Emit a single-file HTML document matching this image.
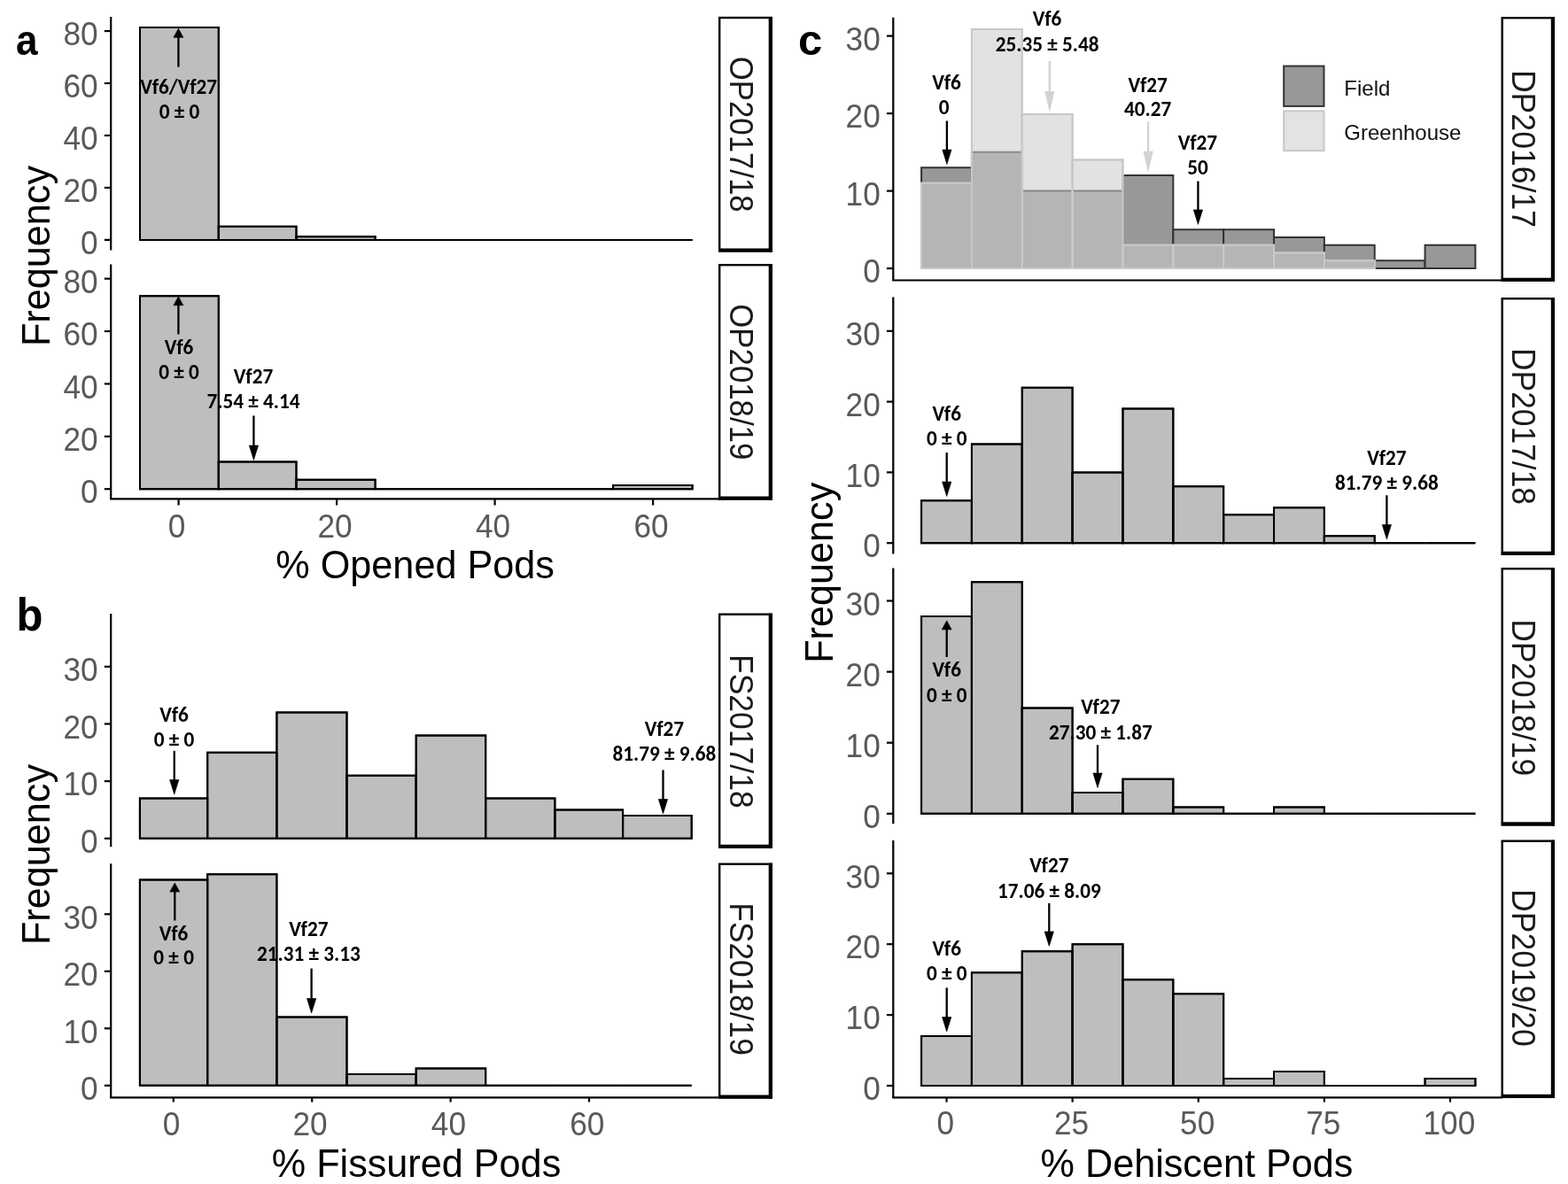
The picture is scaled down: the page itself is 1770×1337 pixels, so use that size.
<!DOCTYPE html><html><head><meta charset="utf-8"><title>Pod dehiscence histograms</title><style>html,body{margin:0;padding:0;background:#fff;overflow:hidden;}svg{display:block;}</style></head><body>
<svg width="1770" height="1337" viewBox="0 0 1770 1337">
<rect x="0" y="0" width="1770" height="1337" fill="#fff"/>
<path d="M158 270.9V30.93H246.8V270.9Z" fill="#bebebe" stroke="#000" stroke-width="2.0"/>
<path d="M246.8 270.9V255.87H334.5V270.9Z" fill="#bebebe" stroke="#000" stroke-width="2.0"/>
<path d="M334.5 270.9V267.36H423.6V270.9Z" fill="#bebebe" stroke="#000" stroke-width="2.0"/>
<path d="M423.6 270.9V270.9H513V270.9Z" fill="#bebebe" stroke="#000" stroke-width="2.0"/>
<path d="M513 270.9V270.9H602.5V270.9Z" fill="#bebebe" stroke="#000" stroke-width="2.0"/>
<path d="M602.5 270.9V270.9H692.1V270.9Z" fill="#bebebe" stroke="#000" stroke-width="2.0"/>
<path d="M692.1 270.9V270.9H781.6V270.9Z" fill="#bebebe" stroke="#000" stroke-width="2.0"/>
<path d="M158 552.2V334.28H246.8V552.2Z" fill="#bebebe" stroke="#000" stroke-width="2.0"/>
<path d="M246.8 552.2V521.62H334.5V552.2Z" fill="#bebebe" stroke="#000" stroke-width="2.0"/>
<path d="M334.5 552.2V541.81H423.6V552.2Z" fill="#bebebe" stroke="#000" stroke-width="2.0"/>
<path d="M423.6 552.2V552.2H513V552.2Z" fill="#bebebe" stroke="#000" stroke-width="2.0"/>
<path d="M513 552.2V552.2H602.5V552.2Z" fill="#bebebe" stroke="#000" stroke-width="2.0"/>
<path d="M602.5 552.2V552.2H692.1V552.2Z" fill="#bebebe" stroke="#000" stroke-width="2.0"/>
<path d="M692.1 552.2V548.04H781.6V552.2Z" fill="#bebebe" stroke="#000" stroke-width="2.0"/>
<line x1="201.4" y1="75.6" x2="201.4" y2="41.3" stroke="#000" stroke-width="2.3" stroke-linecap="butt"/>
<polygon points="195.9,42.3 206.9,42.3 201.4,32.3" fill="#000" stroke="#000" stroke-width="0.6"/>
<text transform="translate(201.6 105.5) scale(1.0 1.03)" font-size="23.2" font-family="Carlito, Calibri, 'Liberation Sans', Arial, sans-serif" font-weight="bold" fill="#000" text-anchor="middle" textLength="86.81" lengthAdjust="spacingAndGlyphs">Vf6/Vf27</text>
<text transform="translate(202.4 134.3) scale(1.0 1.03)" font-size="23.2" font-family="Carlito, Calibri, 'Liberation Sans', Arial, sans-serif" font-weight="bold" fill="#000" text-anchor="middle" textLength="45.56" lengthAdjust="spacingAndGlyphs">0 ± 0</text>
<line x1="201.4" y1="377.5" x2="201.4" y2="343.8" stroke="#000" stroke-width="2.3" stroke-linecap="butt"/>
<polygon points="195.9,344.8 206.9,344.8 201.4,334.8" fill="#000" stroke="#000" stroke-width="0.6"/>
<text transform="translate(202 399.5) scale(1.0 1.03)" font-size="23.2" font-family="Carlito, Calibri, 'Liberation Sans', Arial, sans-serif" font-weight="bold" fill="#000" text-anchor="middle" textLength="32.55" lengthAdjust="spacingAndGlyphs">Vf6</text>
<text transform="translate(202 427.5) scale(1.0 1.03)" font-size="23.2" font-family="Carlito, Calibri, 'Liberation Sans', Arial, sans-serif" font-weight="bold" fill="#000" text-anchor="middle" textLength="45.56" lengthAdjust="spacingAndGlyphs">0 ± 0</text>
<text transform="translate(286 432.6) scale(1.0 1.03)" font-size="23.2" font-family="Carlito, Calibri, 'Liberation Sans', Arial, sans-serif" font-weight="bold" fill="#000" text-anchor="middle" textLength="44.3" lengthAdjust="spacingAndGlyphs">Vf27</text>
<text transform="translate(286 461) scale(1.0 1.03)" font-size="23.2" font-family="Carlito, Calibri, 'Liberation Sans', Arial, sans-serif" font-weight="bold" fill="#000" text-anchor="middle" textLength="104.98" lengthAdjust="spacingAndGlyphs">7.54 ± 4.14</text>
<line x1="286.4" y1="469.4" x2="286.4" y2="504" stroke="#000" stroke-width="2.3" stroke-linecap="butt"/>
<polygon points="281.25,503 291.55,503 286.4,519.5" fill="#000" stroke="#000" stroke-width="0.6" stroke-linejoin="miter"/>
<path d="M158 270.9V30.93H246.8V270.9Z" fill="none" stroke="#000" stroke-width="2.0"/>
<path d="M246.8 270.9V255.87H334.5V270.9Z" fill="none" stroke="#000" stroke-width="2.0"/>
<path d="M334.5 270.9V267.36H423.6V270.9Z" fill="none" stroke="#000" stroke-width="2.0"/>
<path d="M423.6 270.9V270.9H513V270.9Z" fill="none" stroke="#000" stroke-width="2.0"/>
<path d="M513 270.9V270.9H602.5V270.9Z" fill="none" stroke="#000" stroke-width="2.0"/>
<path d="M602.5 270.9V270.9H692.1V270.9Z" fill="none" stroke="#000" stroke-width="2.0"/>
<path d="M692.1 270.9V270.9H781.6V270.9Z" fill="none" stroke="#000" stroke-width="2.0"/>
<path d="M158 552.2V334.28H246.8V552.2Z" fill="none" stroke="#000" stroke-width="2.0"/>
<path d="M246.8 552.2V521.62H334.5V552.2Z" fill="none" stroke="#000" stroke-width="2.0"/>
<path d="M334.5 552.2V541.81H423.6V552.2Z" fill="none" stroke="#000" stroke-width="2.0"/>
<path d="M423.6 552.2V552.2H513V552.2Z" fill="none" stroke="#000" stroke-width="2.0"/>
<path d="M513 552.2V552.2H602.5V552.2Z" fill="none" stroke="#000" stroke-width="2.0"/>
<path d="M602.5 552.2V552.2H692.1V552.2Z" fill="none" stroke="#000" stroke-width="2.0"/>
<path d="M692.1 552.2V548.04H781.6V552.2Z" fill="none" stroke="#000" stroke-width="2.0"/>
<line x1="125.2" y1="19" x2="125.2" y2="282.4" stroke="#000" stroke-width="2.2" stroke-linecap="butt"/>
<line x1="117.8" y1="270.9" x2="125.2" y2="270.9" stroke="#000" stroke-width="2.2" stroke-linecap="butt"/>
<text transform="translate(110.6 287.1) scale(1.0 1.07)" font-size="35.2" font-family="'Liberation Sans', Arial, Helvetica, sans-serif" fill="#595959" text-anchor="end">0</text>
<line x1="117.8" y1="211.94" x2="125.2" y2="211.94" stroke="#000" stroke-width="2.2" stroke-linecap="butt"/>
<text transform="translate(110.6 228.14) scale(1.0 1.07)" font-size="35.2" font-family="'Liberation Sans', Arial, Helvetica, sans-serif" fill="#595959" text-anchor="end">20</text>
<line x1="117.8" y1="152.98" x2="125.2" y2="152.98" stroke="#000" stroke-width="2.2" stroke-linecap="butt"/>
<text transform="translate(110.6 169.18) scale(1.0 1.07)" font-size="35.2" font-family="'Liberation Sans', Arial, Helvetica, sans-serif" fill="#595959" text-anchor="end">40</text>
<line x1="117.8" y1="94.02" x2="125.2" y2="94.02" stroke="#000" stroke-width="2.2" stroke-linecap="butt"/>
<text transform="translate(110.6 110.22) scale(1.0 1.07)" font-size="35.2" font-family="'Liberation Sans', Arial, Helvetica, sans-serif" fill="#595959" text-anchor="end">60</text>
<line x1="117.8" y1="35.06" x2="125.2" y2="35.06" stroke="#000" stroke-width="2.2" stroke-linecap="butt"/>
<text transform="translate(110.6 51.26) scale(1.0 1.07)" font-size="35.2" font-family="'Liberation Sans', Arial, Helvetica, sans-serif" fill="#595959" text-anchor="end">80</text>
<line x1="125.2" y1="298.4" x2="125.2" y2="563.3" stroke="#000" stroke-width="2.2" stroke-linecap="butt"/>
<line x1="117.8" y1="552.2" x2="125.2" y2="552.2" stroke="#000" stroke-width="2.2" stroke-linecap="butt"/>
<text transform="translate(110.6 568.4) scale(1.0 1.07)" font-size="35.2" font-family="'Liberation Sans', Arial, Helvetica, sans-serif" fill="#595959" text-anchor="end">0</text>
<line x1="117.8" y1="492.82" x2="125.2" y2="492.82" stroke="#000" stroke-width="2.2" stroke-linecap="butt"/>
<text transform="translate(110.6 509.02) scale(1.0 1.07)" font-size="35.2" font-family="'Liberation Sans', Arial, Helvetica, sans-serif" fill="#595959" text-anchor="end">20</text>
<line x1="117.8" y1="433.44" x2="125.2" y2="433.44" stroke="#000" stroke-width="2.2" stroke-linecap="butt"/>
<text transform="translate(110.6 449.64) scale(1.0 1.07)" font-size="35.2" font-family="'Liberation Sans', Arial, Helvetica, sans-serif" fill="#595959" text-anchor="end">40</text>
<line x1="117.8" y1="374.06" x2="125.2" y2="374.06" stroke="#000" stroke-width="2.2" stroke-linecap="butt"/>
<text transform="translate(110.6 390.26) scale(1.0 1.07)" font-size="35.2" font-family="'Liberation Sans', Arial, Helvetica, sans-serif" fill="#595959" text-anchor="end">60</text>
<line x1="117.8" y1="314.68" x2="125.2" y2="314.68" stroke="#000" stroke-width="2.2" stroke-linecap="butt"/>
<text transform="translate(110.6 330.88) scale(1.0 1.07)" font-size="35.2" font-family="'Liberation Sans', Arial, Helvetica, sans-serif" fill="#595959" text-anchor="end">80</text>
<line x1="124.1" y1="563.3" x2="812" y2="563.3" stroke="#000" stroke-width="2.2" stroke-linecap="butt"/>
<line x1="201.6" y1="563.3" x2="201.6" y2="570.5" stroke="#000" stroke-width="2.2" stroke-linecap="butt"/>
<text transform="translate(199.6 607.4) scale(1.0 1.07)" font-size="35.2" font-family="'Liberation Sans', Arial, Helvetica, sans-serif" fill="#595959" text-anchor="middle">0</text>
<line x1="380.1" y1="563.3" x2="380.1" y2="570.5" stroke="#000" stroke-width="2.2" stroke-linecap="butt"/>
<text transform="translate(378.1 607.4) scale(1.0 1.07)" font-size="35.2" font-family="'Liberation Sans', Arial, Helvetica, sans-serif" fill="#595959" text-anchor="middle">20</text>
<line x1="558.6" y1="563.3" x2="558.6" y2="570.5" stroke="#000" stroke-width="2.2" stroke-linecap="butt"/>
<text transform="translate(556.6 607.4) scale(1.0 1.07)" font-size="35.2" font-family="'Liberation Sans', Arial, Helvetica, sans-serif" fill="#595959" text-anchor="middle">40</text>
<line x1="737.1" y1="563.3" x2="737.1" y2="570.5" stroke="#000" stroke-width="2.2" stroke-linecap="butt"/>
<text transform="translate(735.1 607.4) scale(1.0 1.07)" font-size="35.2" font-family="'Liberation Sans', Arial, Helvetica, sans-serif" fill="#595959" text-anchor="middle">60</text>
<rect x="812.2" y="20" width="58.5" height="263.4" fill="#fff" stroke="#000" stroke-width="2.4"/>
<line x1="869.8" y1="19.1" x2="869.8" y2="284.6" stroke="#000" stroke-width="4.2" stroke-linecap="butt"/>
<line x1="811.3" y1="282.5" x2="871.9" y2="282.5" stroke="#000" stroke-width="4.2" stroke-linecap="butt"/>
<text transform="translate(823.74 151.7) rotate(90) scale(1.0 1.06)" font-size="34.8" font-family="'Liberation Sans', Arial, Helvetica, sans-serif" fill="#1a1a1a" text-anchor="middle">OP2017/18</text>
<rect x="812.2" y="299.2" width="58.5" height="264.2" fill="#fff" stroke="#000" stroke-width="2.4"/>
<line x1="869.8" y1="298.3" x2="869.8" y2="564.6" stroke="#000" stroke-width="4.2" stroke-linecap="butt"/>
<line x1="811.3" y1="562.5" x2="871.9" y2="562.5" stroke="#000" stroke-width="4.2" stroke-linecap="butt"/>
<text transform="translate(823.74 431.3) rotate(90) scale(1.0 1.06)" font-size="34.8" font-family="'Liberation Sans', Arial, Helvetica, sans-serif" fill="#1a1a1a" text-anchor="middle">OP2018/19</text>
<text transform="translate(468.6 652.8) scale(1.0 1.04)" font-size="43.2" font-family="'Liberation Sans', Arial, Helvetica, sans-serif" fill="#000" text-anchor="middle">% Opened Pods</text>
<text transform="translate(55.8 289) rotate(-90) scale(1.0 1.04)" font-size="43.2" font-family="'Liberation Sans', Arial, Helvetica, sans-serif" fill="#000" text-anchor="middle">Frequency</text>
<text transform="translate(18 62.4) scale(0.9 1.0)" font-size="49" font-family="'Liberation Sans', Arial, Helvetica, sans-serif" font-weight="bold" fill="#000" text-anchor="start">a</text>
<path d="M157.9 946.8V901.53H234.2V946.8Z" fill="#bebebe" stroke="#000" stroke-width="2.0"/>
<path d="M234.2 946.8V849.79H312.4V946.8Z" fill="#bebebe" stroke="#000" stroke-width="2.0"/>
<path d="M312.4 946.8V804.53H391.5V946.8Z" fill="#bebebe" stroke="#000" stroke-width="2.0"/>
<path d="M391.5 946.8V875.66H469.7V946.8Z" fill="#bebebe" stroke="#000" stroke-width="2.0"/>
<path d="M469.7 946.8V830.39H548.2V946.8Z" fill="#bebebe" stroke="#000" stroke-width="2.0"/>
<path d="M548.2 946.8V901.53H626.4V946.8Z" fill="#bebebe" stroke="#000" stroke-width="2.0"/>
<path d="M626.4 946.8V914.46H703.1V946.8Z" fill="#bebebe" stroke="#000" stroke-width="2.0"/>
<path d="M703.1 946.8V920.93H780.7V946.8Z" fill="#bebebe" stroke="#000" stroke-width="2.0"/>
<path d="M157.9 1225.8V993.6H234.2V1225.8Z" fill="#bebebe" stroke="#000" stroke-width="2.0"/>
<path d="M234.2 1225.8V987.15H312.4V1225.8Z" fill="#bebebe" stroke="#000" stroke-width="2.0"/>
<path d="M312.4 1225.8V1148.4H391.5V1225.8Z" fill="#bebebe" stroke="#000" stroke-width="2.0"/>
<path d="M391.5 1225.8V1212.9H469.7V1225.8Z" fill="#bebebe" stroke="#000" stroke-width="2.0"/>
<path d="M469.7 1225.8V1206.45H548.2V1225.8Z" fill="#bebebe" stroke="#000" stroke-width="2.0"/>
<path d="M548.2 1225.8V1225.8H626.4V1225.8Z" fill="#bebebe" stroke="#000" stroke-width="2.0"/>
<path d="M626.4 1225.8V1225.8H703.1V1225.8Z" fill="#bebebe" stroke="#000" stroke-width="2.0"/>
<path d="M703.1 1225.8V1225.8H780.7V1225.8Z" fill="#bebebe" stroke="#000" stroke-width="2.0"/>
<text transform="translate(196.5 815) scale(1.0 1.03)" font-size="23.2" font-family="Carlito, Calibri, 'Liberation Sans', Arial, sans-serif" font-weight="bold" fill="#000" text-anchor="middle" textLength="32.55" lengthAdjust="spacingAndGlyphs">Vf6</text>
<text transform="translate(196.5 843) scale(1.0 1.03)" font-size="23.2" font-family="Carlito, Calibri, 'Liberation Sans', Arial, sans-serif" font-weight="bold" fill="#000" text-anchor="middle" textLength="45.56" lengthAdjust="spacingAndGlyphs">0 ± 0</text>
<line x1="196.75" y1="847.8" x2="196.75" y2="881.6" stroke="#000" stroke-width="2.3" stroke-linecap="butt"/>
<polygon points="191.6,880.6 201.9,880.6 196.75,897.1" fill="#000" stroke="#000" stroke-width="0.6" stroke-linejoin="miter"/>
<text transform="translate(749.9 830.6) scale(1.0 1.03)" font-size="23.2" font-family="Carlito, Calibri, 'Liberation Sans', Arial, sans-serif" font-weight="bold" fill="#000" text-anchor="middle" textLength="44.3" lengthAdjust="spacingAndGlyphs">Vf27</text>
<text transform="translate(749.9 858.8) scale(1.0 1.03)" font-size="23.2" font-family="Carlito, Calibri, 'Liberation Sans', Arial, sans-serif" font-weight="bold" fill="#000" text-anchor="middle" textLength="116.74" lengthAdjust="spacingAndGlyphs">81.79 ± 9.68</text>
<line x1="748.5" y1="869.5" x2="748.5" y2="903.5" stroke="#000" stroke-width="2.3" stroke-linecap="butt"/>
<polygon points="743.35,902.5 753.65,902.5 748.5,919" fill="#000" stroke="#000" stroke-width="0.6" stroke-linejoin="miter"/>
<line x1="197.3" y1="1039.5" x2="197.3" y2="1006.1" stroke="#000" stroke-width="2.3" stroke-linecap="butt"/>
<polygon points="191.8,1007.1 202.8,1007.1 197.3,997.1" fill="#000" stroke="#000" stroke-width="0.6"/>
<text transform="translate(196.1 1061.6) scale(1.0 1.03)" font-size="23.2" font-family="Carlito, Calibri, 'Liberation Sans', Arial, sans-serif" font-weight="bold" fill="#000" text-anchor="middle" textLength="32.55" lengthAdjust="spacingAndGlyphs">Vf6</text>
<text transform="translate(196.1 1089.1) scale(1.0 1.03)" font-size="23.2" font-family="Carlito, Calibri, 'Liberation Sans', Arial, sans-serif" font-weight="bold" fill="#000" text-anchor="middle" textLength="45.56" lengthAdjust="spacingAndGlyphs">0 ± 0</text>
<text transform="translate(348.3 1057) scale(1.0 1.03)" font-size="23.2" font-family="Carlito, Calibri, 'Liberation Sans', Arial, sans-serif" font-weight="bold" fill="#000" text-anchor="middle" textLength="44.3" lengthAdjust="spacingAndGlyphs">Vf27</text>
<text transform="translate(348.3 1085.2) scale(1.0 1.03)" font-size="23.2" font-family="Carlito, Calibri, 'Liberation Sans', Arial, sans-serif" font-weight="bold" fill="#000" text-anchor="middle" textLength="116.74" lengthAdjust="spacingAndGlyphs">21.31 ± 3.13</text>
<line x1="351.6" y1="1093.6" x2="351.6" y2="1128.5" stroke="#000" stroke-width="2.3" stroke-linecap="butt"/>
<polygon points="346.45,1127.5 356.75,1127.5 351.6,1144" fill="#000" stroke="#000" stroke-width="0.6" stroke-linejoin="miter"/>
<path d="M157.9 946.8V901.53H234.2V946.8Z" fill="none" stroke="#000" stroke-width="2.0"/>
<path d="M234.2 946.8V849.79H312.4V946.8Z" fill="none" stroke="#000" stroke-width="2.0"/>
<path d="M312.4 946.8V804.53H391.5V946.8Z" fill="none" stroke="#000" stroke-width="2.0"/>
<path d="M391.5 946.8V875.66H469.7V946.8Z" fill="none" stroke="#000" stroke-width="2.0"/>
<path d="M469.7 946.8V830.39H548.2V946.8Z" fill="none" stroke="#000" stroke-width="2.0"/>
<path d="M548.2 946.8V901.53H626.4V946.8Z" fill="none" stroke="#000" stroke-width="2.0"/>
<path d="M626.4 946.8V914.46H703.1V946.8Z" fill="none" stroke="#000" stroke-width="2.0"/>
<path d="M703.1 946.8V920.93H780.7V946.8Z" fill="none" stroke="#000" stroke-width="2.0"/>
<path d="M157.9 1225.8V993.6H234.2V1225.8Z" fill="none" stroke="#000" stroke-width="2.0"/>
<path d="M234.2 1225.8V987.15H312.4V1225.8Z" fill="none" stroke="#000" stroke-width="2.0"/>
<path d="M312.4 1225.8V1148.4H391.5V1225.8Z" fill="none" stroke="#000" stroke-width="2.0"/>
<path d="M391.5 1225.8V1212.9H469.7V1225.8Z" fill="none" stroke="#000" stroke-width="2.0"/>
<path d="M469.7 1225.8V1206.45H548.2V1225.8Z" fill="none" stroke="#000" stroke-width="2.0"/>
<path d="M548.2 1225.8V1225.8H626.4V1225.8Z" fill="none" stroke="#000" stroke-width="2.0"/>
<path d="M626.4 1225.8V1225.8H703.1V1225.8Z" fill="none" stroke="#000" stroke-width="2.0"/>
<path d="M703.1 1225.8V1225.8H780.7V1225.8Z" fill="none" stroke="#000" stroke-width="2.0"/>
<line x1="125.2" y1="693" x2="125.2" y2="956.2" stroke="#000" stroke-width="2.2" stroke-linecap="butt"/>
<line x1="117.8" y1="946.8" x2="125.2" y2="946.8" stroke="#000" stroke-width="2.2" stroke-linecap="butt"/>
<text transform="translate(110.6 963) scale(1.0 1.07)" font-size="35.2" font-family="'Liberation Sans', Arial, Helvetica, sans-serif" fill="#595959" text-anchor="end">0</text>
<line x1="117.8" y1="882.13" x2="125.2" y2="882.13" stroke="#000" stroke-width="2.2" stroke-linecap="butt"/>
<text transform="translate(110.6 898.33) scale(1.0 1.07)" font-size="35.2" font-family="'Liberation Sans', Arial, Helvetica, sans-serif" fill="#595959" text-anchor="end">10</text>
<line x1="117.8" y1="817.46" x2="125.2" y2="817.46" stroke="#000" stroke-width="2.2" stroke-linecap="butt"/>
<text transform="translate(110.6 833.66) scale(1.0 1.07)" font-size="35.2" font-family="'Liberation Sans', Arial, Helvetica, sans-serif" fill="#595959" text-anchor="end">20</text>
<line x1="117.8" y1="752.79" x2="125.2" y2="752.79" stroke="#000" stroke-width="2.2" stroke-linecap="butt"/>
<text transform="translate(110.6 768.99) scale(1.0 1.07)" font-size="35.2" font-family="'Liberation Sans', Arial, Helvetica, sans-serif" fill="#595959" text-anchor="end">30</text>
<line x1="125.2" y1="975.2" x2="125.2" y2="1239.3" stroke="#000" stroke-width="2.2" stroke-linecap="butt"/>
<line x1="117.8" y1="1225.8" x2="125.2" y2="1225.8" stroke="#000" stroke-width="2.2" stroke-linecap="butt"/>
<text transform="translate(110.6 1242) scale(1.0 1.07)" font-size="35.2" font-family="'Liberation Sans', Arial, Helvetica, sans-serif" fill="#595959" text-anchor="end">0</text>
<line x1="117.8" y1="1161.3" x2="125.2" y2="1161.3" stroke="#000" stroke-width="2.2" stroke-linecap="butt"/>
<text transform="translate(110.6 1177.5) scale(1.0 1.07)" font-size="35.2" font-family="'Liberation Sans', Arial, Helvetica, sans-serif" fill="#595959" text-anchor="end">10</text>
<line x1="117.8" y1="1096.8" x2="125.2" y2="1096.8" stroke="#000" stroke-width="2.2" stroke-linecap="butt"/>
<text transform="translate(110.6 1113) scale(1.0 1.07)" font-size="35.2" font-family="'Liberation Sans', Arial, Helvetica, sans-serif" fill="#595959" text-anchor="end">20</text>
<line x1="117.8" y1="1032.3" x2="125.2" y2="1032.3" stroke="#000" stroke-width="2.2" stroke-linecap="butt"/>
<text transform="translate(110.6 1048.5) scale(1.0 1.07)" font-size="35.2" font-family="'Liberation Sans', Arial, Helvetica, sans-serif" fill="#595959" text-anchor="end">30</text>
<line x1="124.1" y1="1239.3" x2="812" y2="1239.3" stroke="#000" stroke-width="2.2" stroke-linecap="butt"/>
<line x1="195.8" y1="1239.3" x2="195.8" y2="1244.5" stroke="#000" stroke-width="2.2" stroke-linecap="butt"/>
<text transform="translate(193.6 1281.5) scale(1.0 1.07)" font-size="35.2" font-family="'Liberation Sans', Arial, Helvetica, sans-serif" fill="#595959" text-anchor="middle">0</text>
<line x1="352.2" y1="1239.3" x2="352.2" y2="1244.5" stroke="#000" stroke-width="2.2" stroke-linecap="butt"/>
<text transform="translate(350 1281.5) scale(1.0 1.07)" font-size="35.2" font-family="'Liberation Sans', Arial, Helvetica, sans-serif" fill="#595959" text-anchor="middle">20</text>
<line x1="508.6" y1="1239.3" x2="508.6" y2="1244.5" stroke="#000" stroke-width="2.2" stroke-linecap="butt"/>
<text transform="translate(506.4 1281.5) scale(1.0 1.07)" font-size="35.2" font-family="'Liberation Sans', Arial, Helvetica, sans-serif" fill="#595959" text-anchor="middle">40</text>
<line x1="665" y1="1239.3" x2="665" y2="1244.5" stroke="#000" stroke-width="2.2" stroke-linecap="butt"/>
<text transform="translate(662.8 1281.5) scale(1.0 1.07)" font-size="35.2" font-family="'Liberation Sans', Arial, Helvetica, sans-serif" fill="#595959" text-anchor="middle">60</text>
<rect x="812.2" y="693.7" width="58.5" height="263.1" fill="#fff" stroke="#000" stroke-width="2.4"/>
<line x1="869.8" y1="692.8" x2="869.8" y2="958" stroke="#000" stroke-width="4.2" stroke-linecap="butt"/>
<line x1="811.3" y1="955.9" x2="871.9" y2="955.9" stroke="#000" stroke-width="4.2" stroke-linecap="butt"/>
<text transform="translate(823.74 825.85) rotate(90) scale(1.021 1.06)" font-size="34.8" font-family="'Liberation Sans', Arial, Helvetica, sans-serif" fill="#1a1a1a" text-anchor="middle">FS2017/18</text>
<rect x="812.2" y="975.7" width="58.5" height="263.7" fill="#fff" stroke="#000" stroke-width="2.4"/>
<line x1="869.8" y1="974.8" x2="869.8" y2="1240.6" stroke="#000" stroke-width="4.2" stroke-linecap="butt"/>
<line x1="811.3" y1="1238.5" x2="871.9" y2="1238.5" stroke="#000" stroke-width="4.2" stroke-linecap="butt"/>
<text transform="translate(823.74 1105.55) rotate(90) scale(1.013 1.06)" font-size="34.8" font-family="'Liberation Sans', Arial, Helvetica, sans-serif" fill="#1a1a1a" text-anchor="middle">FS2018/19</text>
<text transform="translate(470 1328.5) scale(1.0 1.04)" font-size="43.2" font-family="'Liberation Sans', Arial, Helvetica, sans-serif" fill="#000" text-anchor="middle">% Fissured Pods</text>
<text transform="translate(55.8 965) rotate(-90) scale(1.0 1.04)" font-size="43.2" font-family="'Liberation Sans', Arial, Helvetica, sans-serif" fill="#000" text-anchor="middle">Frequency</text>
<text transform="translate(18.5 712.2) scale(1.0 1.05)" font-size="49" font-family="'Liberation Sans', Arial, Helvetica, sans-serif" font-weight="bold" fill="#000" text-anchor="start">b</text>
<path d="M1040.08 303.1V189.35H1096.92V303.1Z" fill="#989898" stroke="#333333" stroke-width="2.0"/>
<path d="M1096.92 303.1V171.85H1153.78V303.1Z" fill="#989898" stroke="#333333" stroke-width="2.0"/>
<path d="M1153.78 303.1V215.6H1210.62V303.1Z" fill="#989898" stroke="#333333" stroke-width="2.0"/>
<path d="M1210.62 303.1V215.6H1267.47V303.1Z" fill="#989898" stroke="#333333" stroke-width="2.0"/>
<path d="M1267.47 303.1V198.1H1324.33V303.1Z" fill="#989898" stroke="#333333" stroke-width="2.0"/>
<path d="M1324.33 303.1V259.35H1381.17V303.1Z" fill="#989898" stroke="#333333" stroke-width="2.0"/>
<path d="M1381.17 303.1V259.35H1438.03V303.1Z" fill="#989898" stroke="#333333" stroke-width="2.0"/>
<path d="M1438.03 303.1V268.1H1494.88V303.1Z" fill="#989898" stroke="#333333" stroke-width="2.0"/>
<path d="M1494.88 303.1V276.85H1551.72V303.1Z" fill="#989898" stroke="#333333" stroke-width="2.0"/>
<path d="M1551.72 303.1V294.35H1608.57V303.1Z" fill="#989898" stroke="#333333" stroke-width="2.0"/>
<path d="M1608.57 303.1V276.85H1665.42V303.1Z" fill="#989898" stroke="#333333" stroke-width="2.0"/>
<path d="M1040.08 303.1V206.85H1096.92V303.1Z" fill="#cccccc" fill-opacity="0.56" stroke="#c8c8c8" stroke-width="2.0"/>
<path d="M1096.92 303.1V32.99H1153.78V303.1Z" fill="#cccccc" fill-opacity="0.56" stroke="#c8c8c8" stroke-width="2.0"/>
<path d="M1153.78 303.1V128.98H1210.62V303.1Z" fill="#cccccc" fill-opacity="0.56" stroke="#c8c8c8" stroke-width="2.0"/>
<path d="M1210.62 303.1V180.6H1267.47V303.1Z" fill="#cccccc" fill-opacity="0.56" stroke="#c8c8c8" stroke-width="2.0"/>
<path d="M1267.47 303.1V276.85H1324.33V303.1Z" fill="#cccccc" fill-opacity="0.56" stroke="#c8c8c8" stroke-width="2.0"/>
<path d="M1324.33 303.1V276.85H1381.17V303.1Z" fill="#cccccc" fill-opacity="0.56" stroke="#c8c8c8" stroke-width="2.0"/>
<path d="M1381.17 303.1V276.85H1438.03V303.1Z" fill="#cccccc" fill-opacity="0.56" stroke="#c8c8c8" stroke-width="2.0"/>
<path d="M1438.03 303.1V285.6H1494.88V303.1Z" fill="#cccccc" fill-opacity="0.56" stroke="#c8c8c8" stroke-width="2.0"/>
<path d="M1494.88 303.1V294.35H1551.72V303.1Z" fill="#cccccc" fill-opacity="0.56" stroke="#c8c8c8" stroke-width="2.0"/>
<text transform="translate(1068.6 101.3) scale(1.0 1.03)" font-size="23.2" font-family="Carlito, Calibri, 'Liberation Sans', Arial, sans-serif" font-weight="bold" fill="#000" text-anchor="middle" textLength="32.55" lengthAdjust="spacingAndGlyphs">Vf6</text>
<text transform="translate(1065.6 128.7) scale(1.0 1.03)" font-size="23.2" font-family="Carlito, Calibri, 'Liberation Sans', Arial, sans-serif" font-weight="bold" fill="#000" text-anchor="middle" textLength="11.76" lengthAdjust="spacingAndGlyphs">0</text>
<line x1="1068.9" y1="136.5" x2="1068.9" y2="170.1" stroke="#000" stroke-width="2.3" stroke-linecap="butt"/>
<polygon points="1063.75,169.1 1074.05,169.1 1068.9,185.6" fill="#000" stroke="#000" stroke-width="0.6" stroke-linejoin="miter"/>
<text transform="translate(1182.1 29.2) scale(1.0 1.03)" font-size="23.2" font-family="Carlito, Calibri, 'Liberation Sans', Arial, sans-serif" font-weight="bold" fill="#000" text-anchor="middle" textLength="32.55" lengthAdjust="spacingAndGlyphs">Vf6</text>
<text transform="translate(1182.1 57.8) scale(1.0 1.03)" font-size="23.2" font-family="Carlito, Calibri, 'Liberation Sans', Arial, sans-serif" font-weight="bold" fill="#000" text-anchor="middle" textLength="116.74" lengthAdjust="spacingAndGlyphs">25.35 ± 5.48</text>
<line x1="1184.8" y1="69" x2="1184.8" y2="104.5" stroke="#d2d2d2" stroke-width="2.3" stroke-linecap="butt"/>
<polygon points="1179.5,103.5 1190.1,103.5 1184.8,125.5" fill="#d2d2d2" stroke="#d2d2d2" stroke-width="0.6" stroke-linejoin="miter"/>
<text transform="translate(1295.6 103.6) scale(1.0 1.03)" font-size="23.2" font-family="Carlito, Calibri, 'Liberation Sans', Arial, sans-serif" font-weight="bold" fill="#000" text-anchor="middle" textLength="44.3" lengthAdjust="spacingAndGlyphs">Vf27</text>
<text transform="translate(1295.6 131.3) scale(1.0 1.03)" font-size="23.2" font-family="Carlito, Calibri, 'Liberation Sans', Arial, sans-serif" font-weight="bold" fill="#000" text-anchor="middle" textLength="53.23" lengthAdjust="spacingAndGlyphs">40.27</text>
<line x1="1296.1" y1="137.3" x2="1296.1" y2="172" stroke="#d2d2d2" stroke-width="2.3" stroke-linecap="butt"/>
<polygon points="1290.8,171 1301.4,171 1296.1,193.5" fill="#d2d2d2" stroke="#d2d2d2" stroke-width="0.6" stroke-linejoin="miter"/>
<text transform="translate(1351.9 168.7) scale(1.0 1.03)" font-size="23.2" font-family="Carlito, Calibri, 'Liberation Sans', Arial, sans-serif" font-weight="bold" fill="#000" text-anchor="middle" textLength="44.3" lengthAdjust="spacingAndGlyphs">Vf27</text>
<text transform="translate(1351.9 197.1) scale(1.0 1.03)" font-size="23.2" font-family="Carlito, Calibri, 'Liberation Sans', Arial, sans-serif" font-weight="bold" fill="#000" text-anchor="middle" textLength="23.52" lengthAdjust="spacingAndGlyphs">50</text>
<line x1="1352.4" y1="204.6" x2="1352.4" y2="237.9" stroke="#000" stroke-width="2.3" stroke-linecap="butt"/>
<polygon points="1347.25,236.9 1357.55,236.9 1352.4,253.4" fill="#000" stroke="#000" stroke-width="0.6" stroke-linejoin="miter"/>
<path d="M1040.08 303.1V206.85H1096.92V303.1Z" fill="none" stroke="#c8c8c8" stroke-width="2.0"/>
<path d="M1096.92 303.1V32.99H1153.78V303.1Z" fill="none" stroke="#c8c8c8" stroke-width="2.0"/>
<path d="M1153.78 303.1V128.98H1210.62V303.1Z" fill="none" stroke="#c8c8c8" stroke-width="2.0"/>
<path d="M1210.62 303.1V180.6H1267.47V303.1Z" fill="none" stroke="#c8c8c8" stroke-width="2.0"/>
<path d="M1267.47 303.1V276.85H1324.33V303.1Z" fill="none" stroke="#c8c8c8" stroke-width="2.0"/>
<path d="M1324.33 303.1V276.85H1381.17V303.1Z" fill="none" stroke="#c8c8c8" stroke-width="2.0"/>
<path d="M1381.17 303.1V276.85H1438.03V303.1Z" fill="none" stroke="#c8c8c8" stroke-width="2.0"/>
<path d="M1438.03 303.1V285.6H1494.88V303.1Z" fill="none" stroke="#c8c8c8" stroke-width="2.0"/>
<path d="M1494.88 303.1V294.35H1551.72V303.1Z" fill="none" stroke="#c8c8c8" stroke-width="2.0"/>
<line x1="1008.3" y1="19.8" x2="1008.3" y2="316.5" stroke="#000" stroke-width="2.2" stroke-linecap="butt"/>
<line x1="1000.9" y1="303.1" x2="1008.3" y2="303.1" stroke="#000" stroke-width="2.2" stroke-linecap="butt"/>
<text transform="translate(993.7 319.3) scale(1.0 1.07)" font-size="35.2" font-family="'Liberation Sans', Arial, Helvetica, sans-serif" fill="#595959" text-anchor="end">0</text>
<line x1="1000.9" y1="215.6" x2="1008.3" y2="215.6" stroke="#000" stroke-width="2.2" stroke-linecap="butt"/>
<text transform="translate(993.7 231.8) scale(1.0 1.07)" font-size="35.2" font-family="'Liberation Sans', Arial, Helvetica, sans-serif" fill="#595959" text-anchor="end">10</text>
<line x1="1000.9" y1="128.1" x2="1008.3" y2="128.1" stroke="#000" stroke-width="2.2" stroke-linecap="butt"/>
<text transform="translate(993.7 144.3) scale(1.0 1.07)" font-size="35.2" font-family="'Liberation Sans', Arial, Helvetica, sans-serif" fill="#595959" text-anchor="end">20</text>
<line x1="1000.9" y1="40.6" x2="1008.3" y2="40.6" stroke="#000" stroke-width="2.2" stroke-linecap="butt"/>
<text transform="translate(993.7 56.8) scale(1.0 1.07)" font-size="35.2" font-family="'Liberation Sans', Arial, Helvetica, sans-serif" fill="#595959" text-anchor="end">30</text>
<line x1="1007.2" y1="316.5" x2="1696" y2="316.5" stroke="#000" stroke-width="2.2" stroke-linecap="butt"/>
<rect x="1449.2" y="74.6" width="45.3" height="45.3" fill="#989898" stroke="#333333" stroke-width="2"/>
<rect x="1449.2" y="125.4" width="45.3" height="44.8" fill="#e3e3e3" stroke="#c8c8c8" stroke-width="2"/>
<text transform="translate(1517.3 108)" font-size="24" font-family="'Liberation Sans', Arial, Helvetica, sans-serif" fill="#111" text-anchor="start">Field</text>
<text transform="translate(1517.3 158.3)" font-size="24" font-family="'Liberation Sans', Arial, Helvetica, sans-serif" fill="#111" text-anchor="start">Greenhouse</text>
<rect x="1695.7" y="20.2" width="58.1" height="296.6" fill="#fff" stroke="#000" stroke-width="2.4"/>
<line x1="1752.9" y1="19.3" x2="1752.9" y2="318" stroke="#000" stroke-width="4.2" stroke-linecap="butt"/>
<line x1="1694.8" y1="315.9" x2="1755" y2="315.9" stroke="#000" stroke-width="4.2" stroke-linecap="butt"/>
<text transform="translate(1707.04 168) rotate(90) scale(1.024 1.06)" font-size="34.8" font-family="'Liberation Sans', Arial, Helvetica, sans-serif" fill="#1a1a1a" text-anchor="middle">DP2016/17</text>
<path d="M1040.08 613.2V565.32H1096.92V613.2Z" fill="#bebebe" stroke="#000" stroke-width="2.0"/>
<path d="M1096.92 613.2V501.48H1153.78V613.2Z" fill="#bebebe" stroke="#000" stroke-width="2.0"/>
<path d="M1153.78 613.2V437.64H1210.62V613.2Z" fill="#bebebe" stroke="#000" stroke-width="2.0"/>
<path d="M1210.62 613.2V533.4H1267.47V613.2Z" fill="#bebebe" stroke="#000" stroke-width="2.0"/>
<path d="M1267.47 613.2V461.58H1324.33V613.2Z" fill="#bebebe" stroke="#000" stroke-width="2.0"/>
<path d="M1324.33 613.2V549.36H1381.17V613.2Z" fill="#bebebe" stroke="#000" stroke-width="2.0"/>
<path d="M1381.17 613.2V581.28H1438.03V613.2Z" fill="#bebebe" stroke="#000" stroke-width="2.0"/>
<path d="M1438.03 613.2V573.3H1494.88V613.2Z" fill="#bebebe" stroke="#000" stroke-width="2.0"/>
<path d="M1494.88 613.2V605.22H1551.72V613.2Z" fill="#bebebe" stroke="#000" stroke-width="2.0"/>
<path d="M1551.72 613.2V613.2H1608.57V613.2Z" fill="#bebebe" stroke="#000" stroke-width="2.0"/>
<path d="M1608.57 613.2V613.2H1665.42V613.2Z" fill="#bebebe" stroke="#000" stroke-width="2.0"/>
<text transform="translate(1068.7 474.7) scale(1.0 1.03)" font-size="23.2" font-family="Carlito, Calibri, 'Liberation Sans', Arial, sans-serif" font-weight="bold" fill="#000" text-anchor="middle" textLength="32.55" lengthAdjust="spacingAndGlyphs">Vf6</text>
<text transform="translate(1068.7 502.9) scale(1.0 1.03)" font-size="23.2" font-family="Carlito, Calibri, 'Liberation Sans', Arial, sans-serif" font-weight="bold" fill="#000" text-anchor="middle" textLength="45.56" lengthAdjust="spacingAndGlyphs">0 ± 0</text>
<line x1="1068.7" y1="511" x2="1068.7" y2="545.1" stroke="#000" stroke-width="2.3" stroke-linecap="butt"/>
<polygon points="1063.55,544.1 1073.85,544.1 1068.7,560.6" fill="#000" stroke="#000" stroke-width="0.6" stroke-linejoin="miter"/>
<text transform="translate(1565.4 525) scale(1.0 1.03)" font-size="23.2" font-family="Carlito, Calibri, 'Liberation Sans', Arial, sans-serif" font-weight="bold" fill="#000" text-anchor="middle" textLength="44.3" lengthAdjust="spacingAndGlyphs">Vf27</text>
<text transform="translate(1565.4 553.2) scale(1.0 1.03)" font-size="23.2" font-family="Carlito, Calibri, 'Liberation Sans', Arial, sans-serif" font-weight="bold" fill="#000" text-anchor="middle" textLength="116.74" lengthAdjust="spacingAndGlyphs">81.79 ± 9.68</text>
<line x1="1565.4" y1="559.3" x2="1565.4" y2="593.5" stroke="#000" stroke-width="2.3" stroke-linecap="butt"/>
<polygon points="1560.25,592.5 1570.55,592.5 1565.4,609" fill="#000" stroke="#000" stroke-width="0.6" stroke-linejoin="miter"/>
<path d="M1040.08 613.2V565.32H1096.92V613.2Z" fill="none" stroke="#000" stroke-width="2.0"/>
<path d="M1096.92 613.2V501.48H1153.78V613.2Z" fill="none" stroke="#000" stroke-width="2.0"/>
<path d="M1153.78 613.2V437.64H1210.62V613.2Z" fill="none" stroke="#000" stroke-width="2.0"/>
<path d="M1210.62 613.2V533.4H1267.47V613.2Z" fill="none" stroke="#000" stroke-width="2.0"/>
<path d="M1267.47 613.2V461.58H1324.33V613.2Z" fill="none" stroke="#000" stroke-width="2.0"/>
<path d="M1324.33 613.2V549.36H1381.17V613.2Z" fill="none" stroke="#000" stroke-width="2.0"/>
<path d="M1381.17 613.2V581.28H1438.03V613.2Z" fill="none" stroke="#000" stroke-width="2.0"/>
<path d="M1438.03 613.2V573.3H1494.88V613.2Z" fill="none" stroke="#000" stroke-width="2.0"/>
<path d="M1494.88 613.2V605.22H1551.72V613.2Z" fill="none" stroke="#000" stroke-width="2.0"/>
<path d="M1551.72 613.2V613.2H1608.57V613.2Z" fill="none" stroke="#000" stroke-width="2.0"/>
<path d="M1608.57 613.2V613.2H1665.42V613.2Z" fill="none" stroke="#000" stroke-width="2.0"/>
<line x1="1008.3" y1="335.6" x2="1008.3" y2="625.4" stroke="#000" stroke-width="2.2" stroke-linecap="butt"/>
<line x1="1000.9" y1="613.2" x2="1008.3" y2="613.2" stroke="#000" stroke-width="2.2" stroke-linecap="butt"/>
<text transform="translate(993.7 629.4) scale(1.0 1.07)" font-size="35.2" font-family="'Liberation Sans', Arial, Helvetica, sans-serif" fill="#595959" text-anchor="end">0</text>
<line x1="1000.9" y1="533.4" x2="1008.3" y2="533.4" stroke="#000" stroke-width="2.2" stroke-linecap="butt"/>
<text transform="translate(993.7 549.6) scale(1.0 1.07)" font-size="35.2" font-family="'Liberation Sans', Arial, Helvetica, sans-serif" fill="#595959" text-anchor="end">10</text>
<line x1="1000.9" y1="453.6" x2="1008.3" y2="453.6" stroke="#000" stroke-width="2.2" stroke-linecap="butt"/>
<text transform="translate(993.7 469.8) scale(1.0 1.07)" font-size="35.2" font-family="'Liberation Sans', Arial, Helvetica, sans-serif" fill="#595959" text-anchor="end">20</text>
<line x1="1000.9" y1="373.8" x2="1008.3" y2="373.8" stroke="#000" stroke-width="2.2" stroke-linecap="butt"/>
<text transform="translate(993.7 390) scale(1.0 1.07)" font-size="35.2" font-family="'Liberation Sans', Arial, Helvetica, sans-serif" fill="#595959" text-anchor="end">30</text>
<rect x="1695.7" y="337.2" width="58.1" height="288.6" fill="#fff" stroke="#000" stroke-width="2.4"/>
<line x1="1752.9" y1="336.3" x2="1752.9" y2="627" stroke="#000" stroke-width="4.2" stroke-linecap="butt"/>
<line x1="1694.8" y1="624.9" x2="1755" y2="624.9" stroke="#000" stroke-width="4.2" stroke-linecap="butt"/>
<text transform="translate(1707.04 481.5) rotate(90) scale(1.017 1.06)" font-size="34.8" font-family="'Liberation Sans', Arial, Helvetica, sans-serif" fill="#1a1a1a" text-anchor="middle">DP2017/18</text>
<path d="M1040.08 918.8V696.12H1096.92V918.8Z" fill="#bebebe" stroke="#000" stroke-width="2.0"/>
<path d="M1096.92 918.8V657.27H1153.78V918.8Z" fill="#bebebe" stroke="#000" stroke-width="2.0"/>
<path d="M1153.78 918.8V799.45H1210.62V918.8Z" fill="#bebebe" stroke="#000" stroke-width="2.0"/>
<path d="M1210.62 918.8V895.09H1267.47V918.8Z" fill="#bebebe" stroke="#000" stroke-width="2.0"/>
<path d="M1267.47 918.8V879.87H1324.33V918.8Z" fill="#bebebe" stroke="#000" stroke-width="2.0"/>
<path d="M1324.33 918.8V911.59H1381.17V918.8Z" fill="#bebebe" stroke="#000" stroke-width="2.0"/>
<path d="M1381.17 918.8V918.8H1438.03V918.8Z" fill="#bebebe" stroke="#000" stroke-width="2.0"/>
<path d="M1438.03 918.8V911.59H1494.88V918.8Z" fill="#bebebe" stroke="#000" stroke-width="2.0"/>
<path d="M1494.88 918.8V918.8H1551.72V918.8Z" fill="#bebebe" stroke="#000" stroke-width="2.0"/>
<path d="M1551.72 918.8V918.8H1608.57V918.8Z" fill="#bebebe" stroke="#000" stroke-width="2.0"/>
<path d="M1608.57 918.8V918.8H1665.42V918.8Z" fill="#bebebe" stroke="#000" stroke-width="2.0"/>
<line x1="1068.7" y1="742" x2="1068.7" y2="709.9" stroke="#000" stroke-width="2.3" stroke-linecap="butt"/>
<polygon points="1063.2,710.9 1074.2,710.9 1068.7,700.9" fill="#000" stroke="#000" stroke-width="0.6"/>
<text transform="translate(1068.7 764.4) scale(1.0 1.03)" font-size="23.2" font-family="Carlito, Calibri, 'Liberation Sans', Arial, sans-serif" font-weight="bold" fill="#000" text-anchor="middle" textLength="32.55" lengthAdjust="spacingAndGlyphs">Vf6</text>
<text transform="translate(1068.7 792.9) scale(1.0 1.03)" font-size="23.2" font-family="Carlito, Calibri, 'Liberation Sans', Arial, sans-serif" font-weight="bold" fill="#000" text-anchor="middle" textLength="45.56" lengthAdjust="spacingAndGlyphs">0 ± 0</text>
<text transform="translate(1242.3 805.6) scale(1.0 1.03)" font-size="23.2" font-family="Carlito, Calibri, 'Liberation Sans', Arial, sans-serif" font-weight="bold" fill="#000" text-anchor="middle" textLength="44.3" lengthAdjust="spacingAndGlyphs">Vf27</text>
<text transform="translate(1242.3 834.8) scale(1.0 1.03)" font-size="23.2" font-family="Carlito, Calibri, 'Liberation Sans', Arial, sans-serif" font-weight="bold" fill="#000" text-anchor="middle" textLength="116.74" lengthAdjust="spacingAndGlyphs">27.30 ± 1.87</text>
<line x1="1239" y1="841.2" x2="1239" y2="874" stroke="#000" stroke-width="2.3" stroke-linecap="butt"/>
<polygon points="1233.85,873 1244.15,873 1239,889.5" fill="#000" stroke="#000" stroke-width="0.6" stroke-linejoin="miter"/>
<path d="M1040.08 918.8V696.12H1096.92V918.8Z" fill="none" stroke="#000" stroke-width="2.0"/>
<path d="M1096.92 918.8V657.27H1153.78V918.8Z" fill="none" stroke="#000" stroke-width="2.0"/>
<path d="M1153.78 918.8V799.45H1210.62V918.8Z" fill="none" stroke="#000" stroke-width="2.0"/>
<path d="M1210.62 918.8V895.09H1267.47V918.8Z" fill="none" stroke="#000" stroke-width="2.0"/>
<path d="M1267.47 918.8V879.87H1324.33V918.8Z" fill="none" stroke="#000" stroke-width="2.0"/>
<path d="M1324.33 918.8V911.59H1381.17V918.8Z" fill="none" stroke="#000" stroke-width="2.0"/>
<path d="M1381.17 918.8V918.8H1438.03V918.8Z" fill="none" stroke="#000" stroke-width="2.0"/>
<path d="M1438.03 918.8V911.59H1494.88V918.8Z" fill="none" stroke="#000" stroke-width="2.0"/>
<path d="M1494.88 918.8V918.8H1551.72V918.8Z" fill="none" stroke="#000" stroke-width="2.0"/>
<path d="M1551.72 918.8V918.8H1608.57V918.8Z" fill="none" stroke="#000" stroke-width="2.0"/>
<path d="M1608.57 918.8V918.8H1665.42V918.8Z" fill="none" stroke="#000" stroke-width="2.0"/>
<line x1="1008.3" y1="641.6" x2="1008.3" y2="930.2" stroke="#000" stroke-width="2.2" stroke-linecap="butt"/>
<line x1="1000.9" y1="918.8" x2="1008.3" y2="918.8" stroke="#000" stroke-width="2.2" stroke-linecap="butt"/>
<text transform="translate(993.7 935) scale(1.0 1.07)" font-size="35.2" font-family="'Liberation Sans', Arial, Helvetica, sans-serif" fill="#595959" text-anchor="end">0</text>
<line x1="1000.9" y1="838.7" x2="1008.3" y2="838.7" stroke="#000" stroke-width="2.2" stroke-linecap="butt"/>
<text transform="translate(993.7 854.9) scale(1.0 1.07)" font-size="35.2" font-family="'Liberation Sans', Arial, Helvetica, sans-serif" fill="#595959" text-anchor="end">10</text>
<line x1="1000.9" y1="758.6" x2="1008.3" y2="758.6" stroke="#000" stroke-width="2.2" stroke-linecap="butt"/>
<text transform="translate(993.7 774.8) scale(1.0 1.07)" font-size="35.2" font-family="'Liberation Sans', Arial, Helvetica, sans-serif" fill="#595959" text-anchor="end">20</text>
<line x1="1000.9" y1="678.5" x2="1008.3" y2="678.5" stroke="#000" stroke-width="2.2" stroke-linecap="butt"/>
<text transform="translate(993.7 694.7) scale(1.0 1.07)" font-size="35.2" font-family="'Liberation Sans', Arial, Helvetica, sans-serif" fill="#595959" text-anchor="end">30</text>
<rect x="1695.7" y="642.2" width="58.1" height="289.1" fill="#fff" stroke="#000" stroke-width="2.4"/>
<line x1="1752.9" y1="641.3" x2="1752.9" y2="932.5" stroke="#000" stroke-width="4.2" stroke-linecap="butt"/>
<line x1="1694.8" y1="930.4" x2="1755" y2="930.4" stroke="#000" stroke-width="4.2" stroke-linecap="butt"/>
<text transform="translate(1707.04 787.65) rotate(90) scale(1.017 1.06)" font-size="34.8" font-family="'Liberation Sans', Arial, Helvetica, sans-serif" fill="#1a1a1a" text-anchor="middle">DP2018/19</text>
<path d="M1040.08 1226V1170.07H1096.92V1226Z" fill="#bebebe" stroke="#000" stroke-width="2.0"/>
<path d="M1096.92 1226V1098.16H1153.78V1226Z" fill="#bebebe" stroke="#000" stroke-width="2.0"/>
<path d="M1153.78 1226V1074.19H1210.62V1226Z" fill="#bebebe" stroke="#000" stroke-width="2.0"/>
<path d="M1210.62 1226V1066.2H1267.47V1226Z" fill="#bebebe" stroke="#000" stroke-width="2.0"/>
<path d="M1267.47 1226V1106.15H1324.33V1226Z" fill="#bebebe" stroke="#000" stroke-width="2.0"/>
<path d="M1324.33 1226V1122.13H1381.17V1226Z" fill="#bebebe" stroke="#000" stroke-width="2.0"/>
<path d="M1381.17 1226V1218.01H1438.03V1226Z" fill="#bebebe" stroke="#000" stroke-width="2.0"/>
<path d="M1438.03 1226V1210.02H1494.88V1226Z" fill="#bebebe" stroke="#000" stroke-width="2.0"/>
<path d="M1494.88 1226V1226H1551.72V1226Z" fill="#bebebe" stroke="#000" stroke-width="2.0"/>
<path d="M1551.72 1226V1226H1608.57V1226Z" fill="#bebebe" stroke="#000" stroke-width="2.0"/>
<path d="M1608.57 1226V1218.01H1665.42V1226Z" fill="#bebebe" stroke="#000" stroke-width="2.0"/>
<text transform="translate(1068.7 1078.6) scale(1.0 1.03)" font-size="23.2" font-family="Carlito, Calibri, 'Liberation Sans', Arial, sans-serif" font-weight="bold" fill="#000" text-anchor="middle" textLength="32.55" lengthAdjust="spacingAndGlyphs">Vf6</text>
<text transform="translate(1068.7 1106.5) scale(1.0 1.03)" font-size="23.2" font-family="Carlito, Calibri, 'Liberation Sans', Arial, sans-serif" font-weight="bold" fill="#000" text-anchor="middle" textLength="45.56" lengthAdjust="spacingAndGlyphs">0 ± 0</text>
<line x1="1068.7" y1="1115.4" x2="1068.7" y2="1149.5" stroke="#000" stroke-width="2.3" stroke-linecap="butt"/>
<polygon points="1063.55,1148.5 1073.85,1148.5 1068.7,1165" fill="#000" stroke="#000" stroke-width="0.6" stroke-linejoin="miter"/>
<text transform="translate(1184.3 985.3) scale(1.0 1.03)" font-size="23.2" font-family="Carlito, Calibri, 'Liberation Sans', Arial, sans-serif" font-weight="bold" fill="#000" text-anchor="middle" textLength="44.3" lengthAdjust="spacingAndGlyphs">Vf27</text>
<text transform="translate(1184.3 1013.7) scale(1.0 1.03)" font-size="23.2" font-family="Carlito, Calibri, 'Liberation Sans', Arial, sans-serif" font-weight="bold" fill="#000" text-anchor="middle" textLength="116.74" lengthAdjust="spacingAndGlyphs">17.06 ± 8.09</text>
<line x1="1184.3" y1="1020" x2="1184.3" y2="1052.9" stroke="#000" stroke-width="2.3" stroke-linecap="butt"/>
<polygon points="1179.15,1051.9 1189.45,1051.9 1184.3,1068.4" fill="#000" stroke="#000" stroke-width="0.6" stroke-linejoin="miter"/>
<path d="M1040.08 1226V1170.07H1096.92V1226Z" fill="none" stroke="#000" stroke-width="2.0"/>
<path d="M1096.92 1226V1098.16H1153.78V1226Z" fill="none" stroke="#000" stroke-width="2.0"/>
<path d="M1153.78 1226V1074.19H1210.62V1226Z" fill="none" stroke="#000" stroke-width="2.0"/>
<path d="M1210.62 1226V1066.2H1267.47V1226Z" fill="none" stroke="#000" stroke-width="2.0"/>
<path d="M1267.47 1226V1106.15H1324.33V1226Z" fill="none" stroke="#000" stroke-width="2.0"/>
<path d="M1324.33 1226V1122.13H1381.17V1226Z" fill="none" stroke="#000" stroke-width="2.0"/>
<path d="M1381.17 1226V1218.01H1438.03V1226Z" fill="none" stroke="#000" stroke-width="2.0"/>
<path d="M1438.03 1226V1210.02H1494.88V1226Z" fill="none" stroke="#000" stroke-width="2.0"/>
<path d="M1494.88 1226V1226H1551.72V1226Z" fill="none" stroke="#000" stroke-width="2.0"/>
<path d="M1551.72 1226V1226H1608.57V1226Z" fill="none" stroke="#000" stroke-width="2.0"/>
<path d="M1608.57 1226V1218.01H1665.42V1226Z" fill="none" stroke="#000" stroke-width="2.0"/>
<line x1="1008.3" y1="948.9" x2="1008.3" y2="1239.4" stroke="#000" stroke-width="2.2" stroke-linecap="butt"/>
<line x1="1000.9" y1="1226" x2="1008.3" y2="1226" stroke="#000" stroke-width="2.2" stroke-linecap="butt"/>
<text transform="translate(993.7 1242.2) scale(1.0 1.07)" font-size="35.2" font-family="'Liberation Sans', Arial, Helvetica, sans-serif" fill="#595959" text-anchor="end">0</text>
<line x1="1000.9" y1="1146.1" x2="1008.3" y2="1146.1" stroke="#000" stroke-width="2.2" stroke-linecap="butt"/>
<text transform="translate(993.7 1162.3) scale(1.0 1.07)" font-size="35.2" font-family="'Liberation Sans', Arial, Helvetica, sans-serif" fill="#595959" text-anchor="end">10</text>
<line x1="1000.9" y1="1066.2" x2="1008.3" y2="1066.2" stroke="#000" stroke-width="2.2" stroke-linecap="butt"/>
<text transform="translate(993.7 1082.4) scale(1.0 1.07)" font-size="35.2" font-family="'Liberation Sans', Arial, Helvetica, sans-serif" fill="#595959" text-anchor="end">20</text>
<line x1="1000.9" y1="986.3" x2="1008.3" y2="986.3" stroke="#000" stroke-width="2.2" stroke-linecap="butt"/>
<text transform="translate(993.7 1002.5) scale(1.0 1.07)" font-size="35.2" font-family="'Liberation Sans', Arial, Helvetica, sans-serif" fill="#595959" text-anchor="end">30</text>
<line x1="1007.2" y1="1239.4" x2="1696" y2="1239.4" stroke="#000" stroke-width="2.2" stroke-linecap="butt"/>
<line x1="1068.5" y1="1239.4" x2="1068.5" y2="1244.6" stroke="#000" stroke-width="2.2" stroke-linecap="butt"/>
<text transform="translate(1067.4 1281.4) scale(1.0 1.07)" font-size="35.2" font-family="'Liberation Sans', Arial, Helvetica, sans-serif" fill="#595959" text-anchor="middle">0</text>
<line x1="1210.62" y1="1239.4" x2="1210.62" y2="1244.6" stroke="#000" stroke-width="2.2" stroke-linecap="butt"/>
<text transform="translate(1209.53 1281.4) scale(1.0 1.07)" font-size="35.2" font-family="'Liberation Sans', Arial, Helvetica, sans-serif" fill="#595959" text-anchor="middle">25</text>
<line x1="1352.75" y1="1239.4" x2="1352.75" y2="1244.6" stroke="#000" stroke-width="2.2" stroke-linecap="butt"/>
<text transform="translate(1351.65 1281.4) scale(1.0 1.07)" font-size="35.2" font-family="'Liberation Sans', Arial, Helvetica, sans-serif" fill="#595959" text-anchor="middle">50</text>
<line x1="1494.88" y1="1239.4" x2="1494.88" y2="1244.6" stroke="#000" stroke-width="2.2" stroke-linecap="butt"/>
<text transform="translate(1493.78 1281.4) scale(1.0 1.07)" font-size="35.2" font-family="'Liberation Sans', Arial, Helvetica, sans-serif" fill="#595959" text-anchor="middle">75</text>
<line x1="1637" y1="1239.4" x2="1637" y2="1244.6" stroke="#000" stroke-width="2.2" stroke-linecap="butt"/>
<text transform="translate(1635.9 1281.4) scale(1.0 1.07)" font-size="35.2" font-family="'Liberation Sans', Arial, Helvetica, sans-serif" fill="#595959" text-anchor="middle">100</text>
<rect x="1695.7" y="949.7" width="58.1" height="289.1" fill="#fff" stroke="#000" stroke-width="2.4"/>
<line x1="1752.9" y1="948.8" x2="1752.9" y2="1240" stroke="#000" stroke-width="4.2" stroke-linecap="butt"/>
<line x1="1694.8" y1="1237.9" x2="1755" y2="1237.9" stroke="#000" stroke-width="4.2" stroke-linecap="butt"/>
<text transform="translate(1707.04 1092.95) rotate(90) scale(1.022 1.06)" font-size="34.8" font-family="'Liberation Sans', Arial, Helvetica, sans-serif" fill="#1a1a1a" text-anchor="middle">DP2019/20</text>
<text transform="translate(1351 1328.5) scale(1.0 1.04)" font-size="43.2" font-family="'Liberation Sans', Arial, Helvetica, sans-serif" fill="#000" text-anchor="middle">% Dehiscent Pods</text>
<text transform="translate(939.8 646.8) rotate(-90) scale(1.0 1.04)" font-size="43.2" font-family="'Liberation Sans', Arial, Helvetica, sans-serif" fill="#000" text-anchor="middle">Frequency</text>
<text transform="translate(901 62.4)" font-size="49" font-family="'Liberation Sans', Arial, Helvetica, sans-serif" font-weight="bold" fill="#000" text-anchor="start">c</text>
</svg></body></html>
